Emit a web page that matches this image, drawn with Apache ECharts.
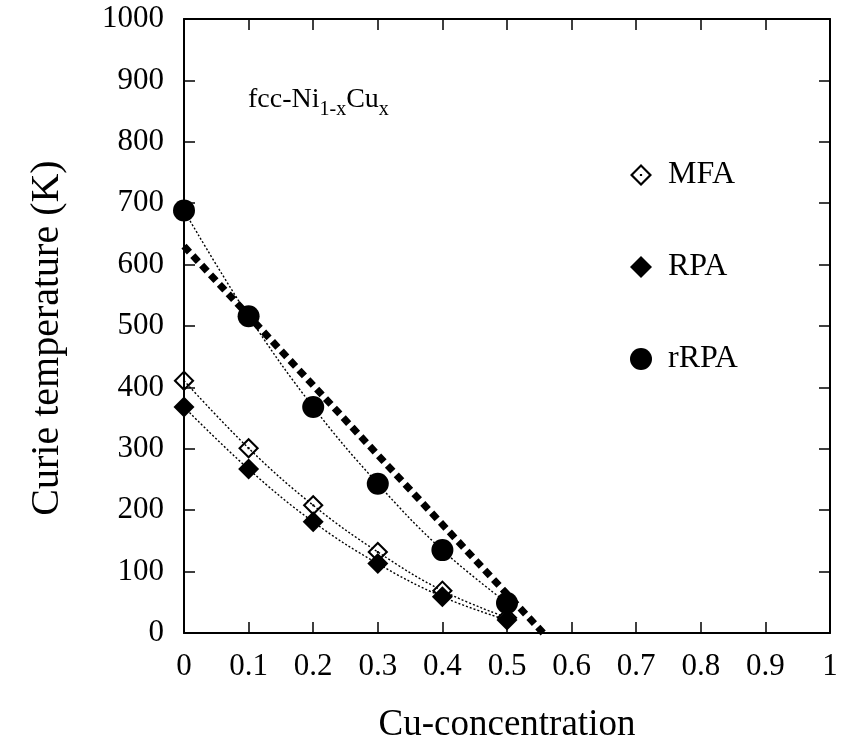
<!DOCTYPE html>
<html>
<head>
<meta charset="utf-8">
<script src="https://cdn.jsdelivr.net/npm/echarts@6/dist/echarts.min.js"></script>
<style>html,body{margin:0;padding:0;background:#fff;}#c{width:841px;height:740px;}</style>
</head>
<body>
<div id="c"></div>
<script>
var xConc = [0, 0.1, 0.2, 0.3, 0.4, 0.5];
var mfa  = [411, 301, 208, 132, 69, 25];
var rpa  = [368, 267, 181, 113, 59, 21];
var rrpa = [688, 516, 368, 243, 135, 49];
var fitX = [0, 0.556];
var fitY = [630, 0];
var seriesNames = ['MFA', 'RPA', 'rRPA'];

var FONT = "'Liberation Serif','Times New Roman',serif";
function pairs(xs, ys) { return xs.map(function (x, i) { return [x, ys[i]]; }); }

var openDiamondDot = 'path://M0,-10 L10,0 L0,10 L-10,0 Z M0,-7.2 L-7.2,0 L0,7.2 L7.2,0 Z M-1,-1 L1,-1 L1,1 L-1,1 Z';

var chart = echarts.init(document.getElementById('c'));
var dotted = { color: '#000', width: 1.4, type: [2, 2] };
var solid = { color: '#000', opacity: 1 };
chart.setOption({
  animation: false,
  backgroundColor: '#fff',
  grid: { left: 184, right: 11, top: 19, bottom: 107, containLabel: false, outerBoundsMode: 'none' },
  xAxis: [{
    type: 'value', min: 0, max: 1, interval: 0.1,
    name: 'Cu-concentration', nameLocation: 'middle', nameGap: 74,
    nameTextStyle: { fontFamily: FONT, fontSize: 37, color: '#000' },
    axisLine: { onZero: false, lineStyle: { color: '#000', width: 2 } },
    axisTick: { inside: true, length: 11, lineStyle: { color: '#000', width: 1.5 } },
    axisLabel: { fontFamily: FONT, fontSize: 31, color: '#000', margin: 18,
      formatter: function (v) { return String(Math.round(v * 10) / 10); } },
    splitLine: { show: false }
  }, {
    type: 'value', position: 'top', min: 0, max: 1, interval: 0.1,
    axisLine: { onZero: false, lineStyle: { color: '#000', width: 2 } },
    axisTick: { inside: true, length: 11, lineStyle: { color: '#000', width: 1.5 } },
    axisLabel: { show: false }, splitLine: { show: false }
  }],
  yAxis: [{
    type: 'value', min: 0, max: 1000, interval: 100,
    name: 'Curie temperature (K)', nameLocation: 'middle', nameGap: 117,
    nameTextStyle: { fontFamily: FONT, fontSize: 40, color: '#000', padding: [0, 24, 0, 0] },
    axisLine: { onZero: false, lineStyle: { color: '#000', width: 2 } },
    axisTick: { inside: true, length: 11, lineStyle: { color: '#000', width: 1.5 } },
    axisLabel: { fontFamily: FONT, fontSize: 31, color: '#000', margin: 20,
      formatter: function (v) { return String(v); } },
    splitLine: { show: false }
  }, {
    type: 'value', position: 'right', min: 0, max: 1000, interval: 100,
    axisLine: { onZero: false, lineStyle: { color: '#000', width: 2 } },
    axisTick: { inside: true, length: 11, lineStyle: { color: '#000', width: 1.5 } },
    axisLabel: { show: false }, splitLine: { show: false }
  }],
  legend: {
    orient: 'vertical', left: 625, top: 154,
    data: seriesNames,
    itemWidth: 22, itemHeight: 22, itemGap: 60,
    itemStyle: { opacity: 1 },
    textStyle: { fontFamily: FONT, fontSize: 32, color: '#000', lineHeight: 32, padding: [0, 0, 0, 11] }
  },
  graphic: [{
    type: 'text', left: 248, top: 86,
    style: {
      text: '{a|fcc-Ni}{s|1-x}{a|Cu}{s|x}',
      rich: {
        a: { fontFamily: FONT, fontSize: 28, fill: '#000', lineHeight: 30, verticalAlign: 'top' },
        s: { fontFamily: FONT, fontSize: 20, fill: '#000', lineHeight: 22, padding: [14, 0, 0, 0], verticalAlign: 'top' }
      }
    }
  }],
  series: [
    { type: 'line', data: pairs(xConc, mfa), smooth: 0.4, symbol: 'none', lineStyle: dotted, z: 2 },
    { type: 'line', data: pairs(xConc, rpa), smooth: 0.4, symbol: 'none', lineStyle: dotted, z: 2 },
    { type: 'line', data: pairs(xConc, rrpa), smooth: 0.4, symbol: 'none', lineStyle: dotted, z: 2 },
    { type: 'line', data: pairs(fitX, fitY), symbol: 'none', lineStyle: { color: '#000', width: 7, type: [8, 5] }, z: 4 },
    { name: 'MFA', type: 'scatter', data: pairs(xConc, mfa), symbol: openDiamondDot, symbolSize: 21,
      itemStyle: solid, z: 3 },
    { name: 'RPA', type: 'scatter', data: pairs(xConc, rpa), symbol: 'diamond', symbolSize: 21,
      itemStyle: solid, z: 3 },
    { name: 'rRPA', type: 'scatter', data: pairs(xConc, rrpa), symbol: 'circle', symbolSize: 22,
      itemStyle: solid, z: 3 }
  ]
});
</script>
</body>
</html>
